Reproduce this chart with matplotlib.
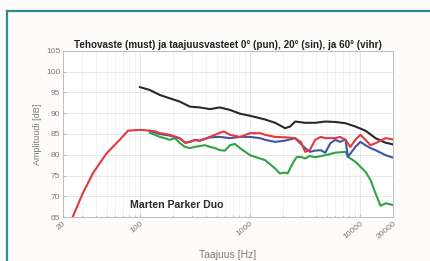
import numpy as np
import matplotlib
matplotlib.use("Agg")
import matplotlib.pyplot as plt
from matplotlib.lines import Line2D
from matplotlib.ticker import FixedLocator, FixedFormatter, LogLocator, NullFormatter

plt.rcParams["font.family"] = ["Liberation Sans", "DejaVu Sans"]

# --- data (frequency in Hz, level in dB) ---
black_f = [100, 123, 152, 187, 231, 284, 351, 433, 534, 659, 812, 1002, 1236,
           1373, 1695, 2091, 2322, 2578, 3181, 3926, 4845, 5979, 7379, 9107,
           11238, 13869, 17116, 20000]
black_db = [96.3, 95.6, 94.4, 93.6, 92.8, 91.6, 91.4, 91.0, 91.4, 90.8, 89.9,
            89.4, 88.8, 88.5, 87.7, 86.4, 86.8, 88.0, 87.7, 87.7, 88.0, 87.9,
            87.6, 86.8, 85.8, 84.0, 82.9, 82.5]

red_f = [22, 24.5, 30, 37.5, 50, 65, 78, 100, 123, 140, 152, 187, 231, 258,
         284, 316, 351, 433, 534, 580, 659, 812, 1002, 1236, 1373, 1695, 2091,
         2578, 2900, 3181, 3500, 3926, 4400, 4845, 5979, 6600, 7379, 8200,
         9107, 10100, 11238, 12500, 13869, 17116, 20000]
red_db = [61.5, 65.0, 70.5, 75.6, 80.4, 83.5, 85.8, 86.0, 85.8, 85.6, 85.2,
          84.8, 84.0, 82.9, 83.1, 83.6, 83.4, 84.3, 85.3, 85.6, 84.8, 84.3,
          85.2, 85.2, 84.8, 84.3, 84.2, 84.0, 83.1, 80.7, 81.1, 83.6, 84.3,
          84.0, 84.0, 84.3, 83.6, 81.9, 83.6, 84.8, 83.6, 82.3, 82.8, 84.0, 83.7]

blue_f = [123, 152, 187, 231, 258, 284, 316, 351, 433, 534, 659, 812, 1002,
          1236, 1373, 1695, 2091, 2578, 3181, 3500, 3926, 4400, 4845, 5400,
          5979, 6600, 7379, 7800, 9107, 10100, 11238, 12500, 13869, 17116, 20000]
blue_db = [85.8, 85.0, 84.6, 83.9, 82.9, 83.1, 83.5, 83.4, 84.2, 84.3, 84.0,
           84.3, 84.3, 84.0, 83.6, 83.1, 83.4, 84.0, 81.6, 80.7, 81.0, 81.1,
           80.5, 82.8, 83.6, 83.1, 83.7, 79.5, 81.9, 83.1, 82.3, 81.6, 81.1,
           79.9, 79.3]

green_f = [123, 137, 152, 168, 187, 208, 231, 257, 284, 316, 351, 390, 433,
           481, 534, 593, 659, 731, 812, 1002, 1236, 1373, 1695, 1870, 2091,
           2200, 2450, 2650, 2900, 3181, 3500, 3926, 4845, 5979, 7379, 7800,
           9107, 11238, 12500, 13869, 15400, 17116, 20000]
green_db = [85.3, 84.8, 84.3, 84.0, 83.6, 84.0, 82.8, 81.9, 81.6, 81.9, 82.1,
            82.3, 81.9, 81.6, 81.1, 81.0, 82.3, 82.6, 81.6, 79.9, 79.1, 78.7,
            76.7, 75.5, 75.7, 75.5, 77.9, 79.4, 79.5, 79.1, 79.7, 79.4, 79.9,
            80.5, 80.7, 79.5, 78.3, 75.9, 73.9, 70.7, 67.7, 68.3, 67.9]

x_ticks = [20, 100, 1000, 10000, 20000]
x_tick_labels = ["20", "100", "1000", "10000", "20000"]
y_ticks = [65, 70, 75, 80, 85, 90, 95, 100, 105]

fig = plt.figure(figsize=(4.30, 2.61), dpi=100)
fig.patch.set_facecolor("#fdfcfa")

# teal frame (top and left edges visible in the source)
fig.add_artist(Line2D([7 / 430, 1.0], [1 - 11 / 261, 1 - 11 / 261],
                      transform=fig.transFigure, color="#2f8c88", lw=1.6))
fig.add_artist(Line2D([7 / 430, 7 / 430], [0.0, 1 - 11 / 261],
                      transform=fig.transFigure, color="#2f8c88", lw=1.6))

ax = fig.add_axes([63 / 430, 1 - 217 / 261, 330 / 430, 166 / 261])
ax.set_facecolor("white")

ax.plot(black_f, black_db, color="#2a2a2a", lw=1.5, zorder=3)
ax.plot(green_f, green_db, color="#2ea443", lw=1.5, zorder=3)
ax.plot(blue_f, blue_db, color="#3d57a6", lw=1.5, zorder=3)
ax.plot(red_f, red_db, color="#e5383f", lw=1.5, zorder=4)

ax.set_xscale("log")
ax.set_xlim(20, 20000)
ax.set_ylim(65, 105)
ax.xaxis.set_major_locator(FixedLocator(x_ticks))
ax.xaxis.set_major_formatter(FixedFormatter(x_tick_labels))
ax.xaxis.set_minor_locator(LogLocator(base=10, subs=np.arange(2, 10)))
ax.xaxis.set_minor_formatter(NullFormatter())
ax.set_yticks(y_ticks)

ax.grid(True, which="major", color="#e3e3e3", lw=0.6)
ax.grid(True, which="minor", axis="x", color="#eeeeee", lw=0.5)
ax.set_axisbelow(True)

for s in ax.spines.values():
    s.set_color("#bdbdbd")
    s.set_linewidth(0.7)
ax.tick_params(which="both", direction="in", colors="#bdbdbd", length=2,
               labelcolor="#7a7a7a", labelsize=6, pad=2)
ax.tick_params(which="minor", length=1.2)
for lab in ax.get_xticklabels():
    lab.set_rotation(40)
    lab.set_ha("right")
    lab.set_va("top")
    lab.set_rotation_mode("anchor")

ax.set_title("Tehovaste (must) ja taajuusvasteet 0° (pun), 20° (sin), ja 60° (vihr)",
             fontsize=7.1, fontweight="bold", color="#222222", pad=2)
ax.set_ylabel("Amplituudi [dB]", fontsize=6.5, color="#7a7a7a", labelpad=3)
ax.set_xlabel("Taajuus [Hz]", fontsize=7.5, color="#7a7a7a", labelpad=7)

ax.text(81, 67.9, "Marten Parker Duo", fontsize=7.6, fontweight="bold",
        color="#2a2a2a", va="center", ha="left")

fig.savefig("out.png", dpi=100, facecolor=fig.get_facecolor())
